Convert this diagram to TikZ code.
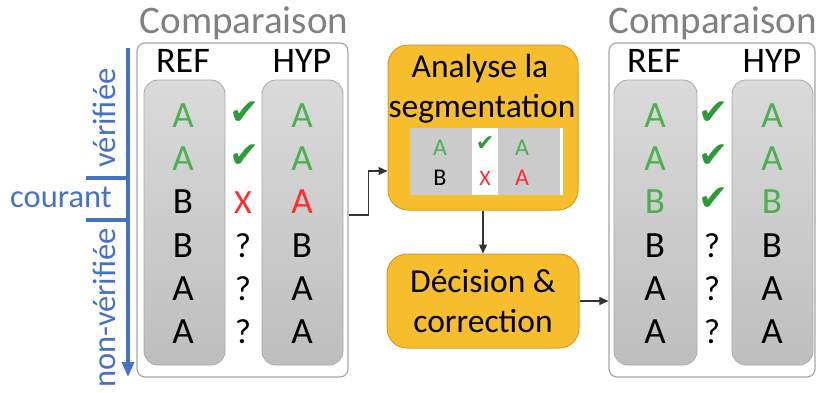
\documentclass[tikz,border=0pt]{standalone}
\usepackage{fontspec}
\setmainfont{Carlito}
\newfontfamily\symfont{DejaVu Sans}
\usetikzlibrary{arrows.meta}
\definecolor{ttlgray}{HTML}{808080}
\definecolor{pangray}{HTML}{A6A6A6}
\definecolor{colgrayA}{HTML}{DADADA}
\definecolor{colgrayB}{HTML}{BEBEBE}
\definecolor{colbord}{HTML}{A8A8A8}
\definecolor{okgreen}{HTML}{4CAF50}
\definecolor{chkgreen}{HTML}{2E9A3A}
\definecolor{errred}{HTML}{FF2E2E}
\definecolor{axblue}{HTML}{4472C4}
\definecolor{goldfill}{HTML}{F6BE2C}
\definecolor{goldline}{HTML}{D99A1E}
\tikzset{
  panel/.style={draw=pangray, line width=1.2pt, rounded corners=8pt, fill=white, inner sep=0pt},
  colbox/.style={draw=colbord, line width=0.8pt, rounded corners=14pt, top color=colgrayA, bottom color=colgrayB, inner sep=0pt, minimum height=285pt},
  golden/.style={draw=goldline, line width=1pt, rounded corners=20pt, fill=goldfill, inner sep=0pt},
  ttl/.style={anchor=base, text=ttlgray, font=\fontsize{39}{42}\selectfont, inner sep=0pt},
  hdr/.style={anchor=base, font=\fontsize{36}{38}\selectfont, inner sep=0pt},
  lt/.style={anchor=base, font=\fontsize{37}{39}\selectfont, inner sep=0pt},
  chk/.style={anchor=base, text=chkgreen, font=\symfont\fontsize{36}{38}\selectfont, inner sep=0pt},
  crs/.style={anchor=base, text=errred, font=\fontsize{34}{36}\selectfont, inner sep=0pt},
  qm/.style={anchor=base, font=\fontsize{35}{37}\selectfont, inner sep=0pt},
  boxtxt/.style={anchor=base, font=\fontsize{33.5}{36}\selectfont, inner sep=0pt},
  axtxt/.style={anchor=base, text=axblue, font=\fontsize{32.5}{34}\selectfont, inner sep=0pt},
  smlt/.style={anchor=base, font=\fontsize{24}{26}\selectfont, inner sep=0pt},
  smchk/.style={anchor=base, text=chkgreen, font=\symfont\fontsize{22}{24}\selectfont, inner sep=0pt},
  smx/.style={anchor=base, text=errred, font=\fontsize{22}{24}\selectfont, inner sep=0pt},
  arr/.style={draw=black!80, line width=1.1pt, -{Triangle[length=9pt,width=8pt]}},
  axline/.style={draw=axblue, line width=3.5pt},
}
\begin{document}
\begin{tikzpicture}[x=1pt,y=-1pt]
\useasboundingbox (0,0) rectangle (816,392);
% ---------- left comparison panel ----------
\node[ttl] (t1) at (244,33) {Comparaison};
\node[panel, minimum width=211pt, minimum height=334pt] (lpanel) at (242.5,210) {};
\node[hdr] (lref) at (183,72) {REF};
\node[hdr] (lhyp) at (302,72) {HYP};
\node[colbox, minimum width=81pt] (lrefcol) at (184.5,222.5) {};
\node[colbox, minimum width=81pt] (lhypcol) at (302.5,222.5) {};
% rows
\node[lt, text=okgreen] (lr1) at (183,127) {A};
\node[lt, text=okgreen] (lr2) at (183,170) {A};
\node[lt] (lr3) at (183,213.5) {B};
\node[lt] (lr4) at (183,257) {B};
\node[lt] (lr5) at (183,300) {A};
\node[lt] (lr6) at (183,343.5) {A};
\node[chk] (lc1) at (245,124) {✔};
\node[chk] (lc2) at (245,167) {✔};
\node[crs] (lc3) at (243,213.5) {X};
\node[qm] (lc4) at (243,257) {?};
\node[qm] (lc5) at (243,300) {?};
\node[qm] (lc6) at (243,343.5) {?};
\node[lt, text=okgreen] (lh1) at (302,127) {A};
\node[lt, text=okgreen] (lh2) at (302,170) {A};
\node[lt, text=errred] (lh3) at (302,213.5) {A};
\node[lt] (lh4) at (302,257) {B};
\node[lt] (lh5) at (302,300) {A};
\node[lt] (lh6) at (302,343.5) {A};
% ---------- blue axis ----------
\coordinate (axtop) at (128,48);
\coordinate (axbot) at (128,377);
\coordinate (tk1a) at (86,178);
\coordinate (tk1b) at (129.75,178);
\coordinate (tk2a) at (86,220);
\coordinate (tk2b) at (129.75,220);
\draw[axline, -{Triangle[length=15pt,width=12pt]}] (axtop) -- (axbot);
\draw[axline] (tk1a) -- (tk1b);
\draw[axline] (tk2a) -- (tk2b);
\node[axtxt] (courant) at (61,207) {courant};
\node[axtxt, rotate=90] (verif) at (115,118) {vérifiée};
\node[axtxt, rotate=90] (nonverif) at (115,308) {non-vérifiée};
% ---------- middle boxes ----------
\node[golden, minimum width=190pt, minimum height=165pt] (box1) at (483,127.5) {};
\node[boxtxt] (b1l1) at (480,77) {Analyse la};
\node[boxtxt] (b1l2) at (482,117) {segmentation};
\fill[colgrayB!80] (410,128) rectangle (472,195);
\fill[white] (472,128) rectangle (498,195);
\fill[colgrayB!80] (498,128) rectangle (560,195);
\fill[white] (560,128) rectangle (563,195);
\node[smlt, text=okgreen] (s1) at (440,155) {A};
\node[smchk] (s2) at (485,150) {✔};
\node[smlt, text=okgreen] (s3) at (522,155) {A};
\node[smlt] (s4) at (440,185) {B};
\node[smx] (s5) at (485,185) {X};
\node[smlt, text=errred] (s6) at (522,185) {A};
\node[golden, minimum width=192pt, minimum height=94pt] (box2) at (483,301) {};
\node[boxtxt] (b2l1) at (483,292) {Décision \&};
\node[boxtxt] (b2l2) at (483,332) {correction};
% ---------- right comparison panel ----------
\node[ttl] (t2) at (712.5,33) {Comparaison};
\node[panel, minimum width=206pt, minimum height=334pt] (rpanel) at (712,210) {};
\node[hdr] (rref) at (654,72) {REF};
\node[hdr] (rhyp) at (772,72) {HYP};
\node[colbox, minimum width=83pt] (rrefcol) at (655.5,222.5) {};
\node[colbox, minimum width=81pt] (rhypcol) at (772.5,222.5) {};
\node[lt, text=okgreen] (rr1) at (655,127) {A};
\node[lt, text=okgreen] (rr2) at (655,170) {A};
\node[lt, text=okgreen] (rr3) at (655,213.5) {B};
\node[lt] (rr4) at (655,257) {B};
\node[lt] (rr5) at (655,300) {A};
\node[lt] (rr6) at (655,343.5) {A};
\node[chk] (rc1) at (714,124) {✔};
\node[chk] (rc2) at (714,167) {✔};
\node[chk] (rc3) at (714,210.5) {✔};
\node[qm] (rc4) at (712,257) {?};
\node[qm] (rc5) at (712,300) {?};
\node[qm] (rc6) at (712,343.5) {?};
\node[lt, text=okgreen] (rh1) at (772,127) {A};
\node[lt, text=okgreen] (rh2) at (772,170) {A};
\node[lt, text=okgreen] (rh3) at (772,213.5) {B};
\node[lt] (rh4) at (772,257) {B};
\node[lt] (rh5) at (772,300) {A};
\node[lt] (rh6) at (772,343.5) {A};
% ---------- connectors ----------
\draw[arr] ([yshift=-5pt]lpanel.east) -- ++(20,0) |- ([yshift=-43.5pt]box1.west);
\draw[arr] (box1.south) -- (box2.north);
\draw[arr] (box2.east) -- (box2.east -| rpanel.west);
\end{tikzpicture}
\end{document}
